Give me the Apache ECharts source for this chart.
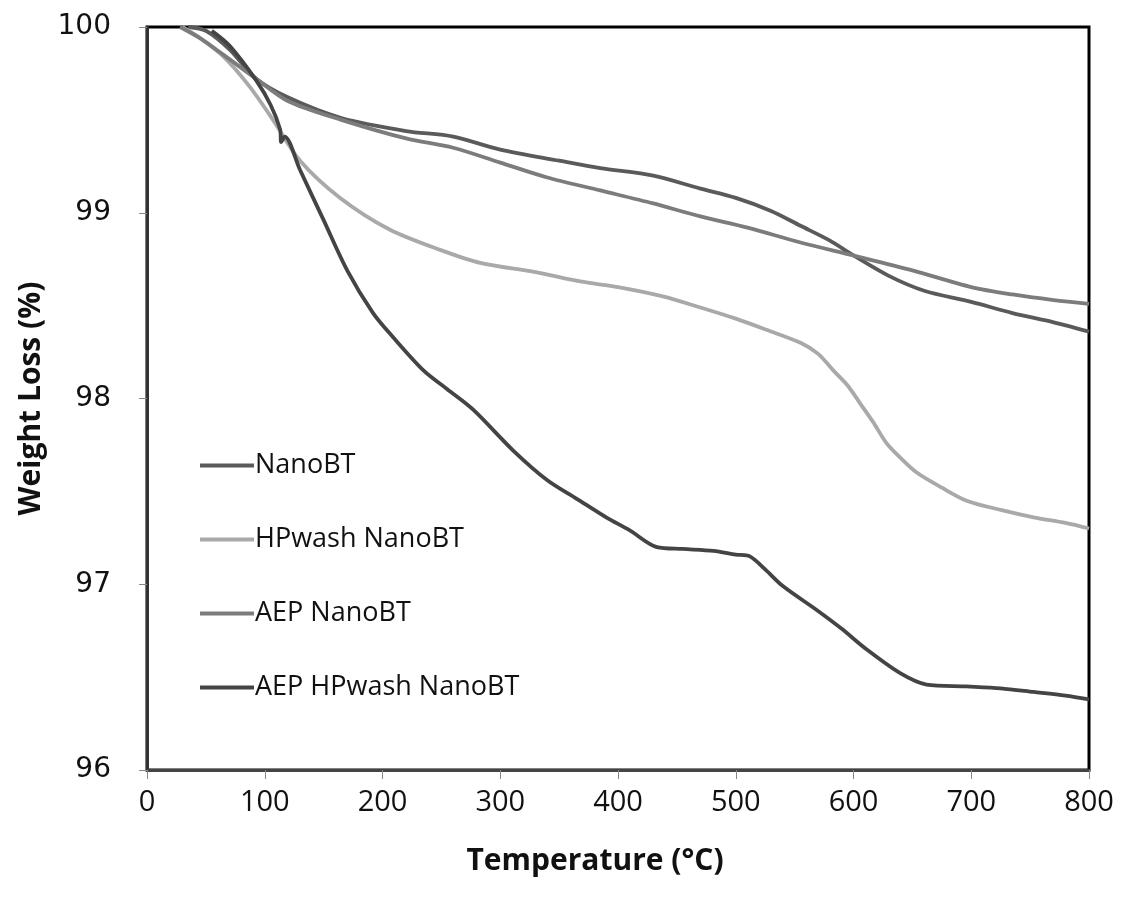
<!DOCTYPE html>
<html>
<head>
<meta charset="utf-8">
<title>TGA Weight Loss</title>
<script src="https://cdn.jsdelivr.net/npm/echarts@6/dist/echarts.min.js"></script>
<style>
  html, body { margin: 0; padding: 0; background: #fff; }
  #chart { width: 1122px; height: 909px; }
</style>
</head>
<body>
<div id="chart"></div>
<script>
// Thermogravimetric curves: [temperature °C, weight %]
const seriesNames = ['NanoBT', 'HPwash NanoBT', 'AEP NanoBT', 'AEP HPwash NanoBT'];

const nanoBT = [
  [35, 100.0], [50, 99.98], [70, 99.88], [93, 99.72], [120, 99.62], [165, 99.51],
  [220, 99.44], [260, 99.41], [300, 99.34], [350, 99.28], [385, 99.24], [430, 99.20],
  [470, 99.13], [500, 99.08], [530, 99.01], [555, 98.93], [580, 98.85], [600, 98.77],
  [630, 98.66], [660, 98.58], [700, 98.52], [735, 98.46], [770, 98.41], [800, 98.36]
];

const hpwashNanoBT = [
  [30, 100.0], [45, 99.94], [65, 99.84], [87, 99.68], [107, 99.50], [130, 99.28],
  [164, 99.08], [206, 98.91], [249, 98.80], [283, 98.73], [330, 98.68], [368, 98.63],
  [400, 98.60], [438, 98.55], [470, 98.49], [500, 98.43], [526, 98.37], [555, 98.30],
  [570, 98.24], [583, 98.15], [595, 98.07], [606, 97.97], [617, 97.87], [628, 97.76],
  [640, 97.68], [654, 97.60], [675, 97.52], [696, 97.45], [725, 97.40], [753, 97.36],
  [780, 97.33], [800, 97.30]
];

const aepNanoBT = [
  [28, 100.0], [45, 99.94], [65, 99.85], [93, 99.72], [120, 99.60], [165, 99.50],
  [220, 99.40], [260, 99.35], [300, 99.27], [340, 99.19], [385, 99.12], [430, 99.05],
  [470, 98.98], [510, 98.92], [555, 98.84], [600, 98.77], [650, 98.69], [700, 98.60],
  [735, 98.56], [770, 98.53], [800, 98.51]
];

const aepHpwashNanoBT = [
  [55, 99.98], [70, 99.90], [93, 99.71], [105, 99.58], [113, 99.45], [114, 99.38],
  [117, 99.41], [130, 99.23], [150, 98.96], [170, 98.69], [192, 98.46], [209, 98.33],
  [235, 98.15], [255, 98.05], [277, 97.94], [311, 97.72], [340, 97.56], [365, 97.46],
  [390, 97.36], [410, 97.29], [433, 97.20], [455, 97.19], [481, 97.18], [500, 97.16],
  [512, 97.15], [525, 97.08], [540, 96.99], [569, 96.86], [590, 96.76], [611, 96.65],
  [640, 96.52], [662, 96.46], [696, 96.45], [725, 96.44], [753, 96.42], [780, 96.40],
  [800, 96.38]
];

const xTicks = { min: 0, max: 800, interval: 100 };
const yTicks = { min: 96, max: 100, interval: 1 };

const seriesData = [nanoBT, hpwashNanoBT, aepNanoBT, aepHpwashNanoBT];
const seriesColors = ['#5a5a5a', '#a9a9a9', '#7c7c7c', '#444444'];

const chart = echarts.init(document.getElementById('chart'), null, { renderer: 'canvas' });

chart.setOption({
  backgroundColor: '#ffffff',
  animation: false,
  grid: {
    left: 147, right: 33, top: 27, bottom: 139,
    show: true, borderColor: '#000', borderWidth: 3, backgroundColor: 'transparent'
  },
  legend: {
    orient: 'vertical',
    left: 195, top: 447,
    icon: 'rect',
    itemWidth: 54, itemHeight: 4,
    itemGap: 47,
    textStyle: { fontFamily: 'Open Sans, sans-serif', fontSize: 27, color: '#111', padding: [0, 0, 0, -4] },
    data: seriesNames
  },
  xAxis: {
    type: 'value',
    min: xTicks.min, max: xTicks.max, interval: xTicks.interval,
    name: 'Temperature (°C)',
    nameLocation: 'middle',
    nameGap: 76,
    nameTextStyle: { fontFamily: 'Open Sans, sans-serif', fontWeight: 'bold', fontSize: 30, color: '#111', padding: [0, 46, 0, 0] },
    axisLine: { show: true, lineStyle: { color: '#444', width: 3 } },
    axisTick: { show: true, inside: false, length: 9, lineStyle: { color: '#888', width: 1 } },
    axisLabel: { margin: 18, fontFamily: 'Open Sans, sans-serif', fontSize: 29, color: '#111' },
    splitLine: { show: false }
  },
  yAxis: {
    type: 'value',
    min: yTicks.min, max: yTicks.max, interval: yTicks.interval,
    name: 'Weight Loss (%)',
    nameLocation: 'middle',
    nameGap: 99,
    nameRotate: 90,
    nameTextStyle: { fontFamily: 'Open Sans, sans-serif', fontWeight: 'bold', fontSize: 30, color: '#111' },
    axisLine: { show: true, lineStyle: { color: '#333', width: 3 } },
    axisTick: { show: true, inside: false, length: 8, lineStyle: { color: '#888', width: 1 } },
    axisLabel: { margin: 36, fontFamily: 'DejaVu Sans, sans-serif', fontSize: 28, color: '#111' },
    splitLine: { show: false }
  },
  series: seriesNames.map((name, i) => ({
    name: name,
    type: 'line',
    data: seriesData[i],
    smooth: 0.3,
    showSymbol: false,
    symbol: 'none',
    clip: true,
    lineStyle: { color: seriesColors[i], width: 3.8 },
    itemStyle: { color: seriesColors[i] }
  }))
});
</script>
</body>
</html>
